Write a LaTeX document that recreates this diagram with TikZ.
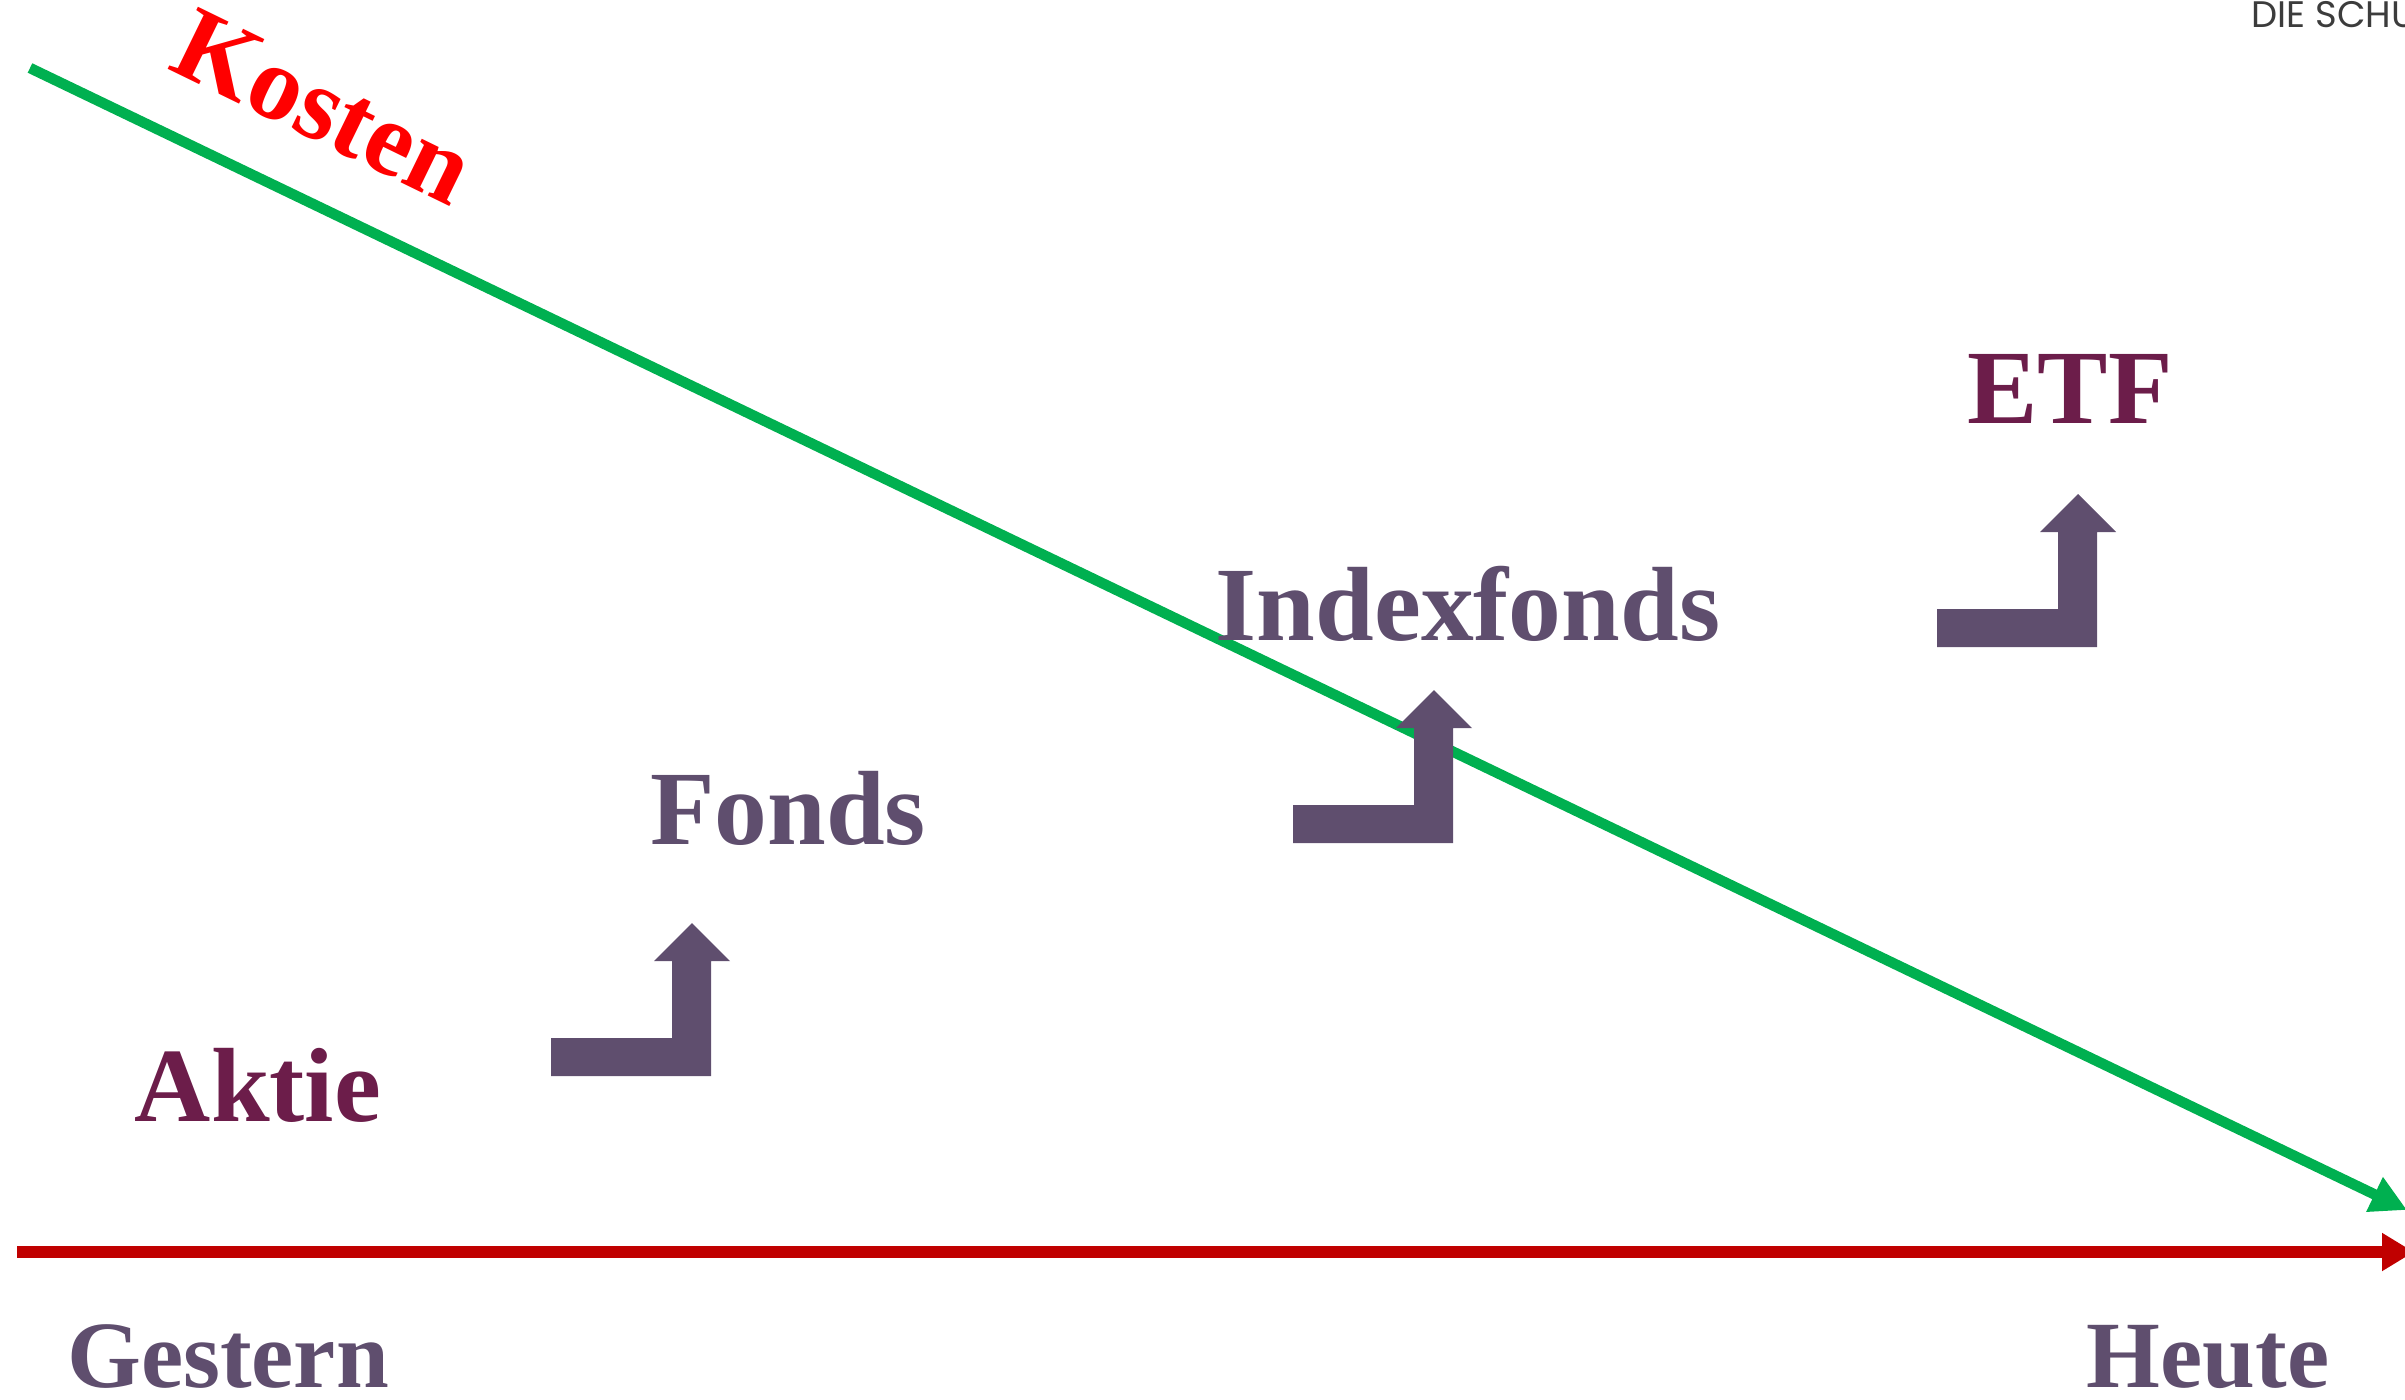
\documentclass[tikz,border=0pt]{standalone}
\usepackage{fontspec}
\setmainfont{Liberation Serif}
\newfontfamily\headfont{Poppins}
\usetikzlibrary{arrows.meta}
\definecolor{deepplum}{RGB}{108,29,74}
\definecolor{mauve}{RGB}{95,78,110}
\definecolor{kostred}{RGB}{255,0,0}
\definecolor{kostgreen}{RGB}{0,176,80}
\definecolor{axisred}{RGB}{192,0,0}
\definecolor{headgray}{RGB}{60,60,60}
\tikzset{
  lbl/.style={font=\fontsize{30}{36}\selectfont\bfseries, inner sep=0pt, anchor=base},
  smalllbl/.style={font=\fontsize{27}{32}\selectfont\bfseries, inner sep=0pt, anchor=base},
  bentarrow/.pic={\fill[mauve] (0,0) -- (160,0) -- (160,-115) -- (179,-115) -- (141,-153) -- (103,-115) -- (121,-115) -- (121,-38) -- (0,-38) -- cycle;},
  costline/.style={draw=kostgreen, line width=0.105cm, -{Triangle[length=0.36cm,width=0.36cm]}},
  timeline/.style={draw=axisred, line width=0.12cm, -{Triangle[length=0.32cm,width=0.36cm]}}
}
\begin{document}
\begin{tikzpicture}[x=0.01cm,y=-0.01cm]
\useasboundingbox (0,0) rectangle (2405,1399);
\clip (0,0) rectangle (2405,1399);
% header
\node[font=\headfont\fontsize{10.5}{12}\selectfont, text=headgray, anchor=base west, inner sep=0pt] (hdr) at (2251,27) {DIE SCHU};
% timeline
\coordinate (tstart) at (17,1252);
\coordinate (tend) at (2414,1252);
\draw[timeline] (tstart) -- (tend);
% cost line
\coordinate (kstart) at (30,68);
\coordinate (kend) at (2407,1210);
\draw[costline] (kstart) -- (kend);
\node[lbl, text=kostred, anchor=center, rotate=-26] (kosten) at (324,107) {Kosten};
% labels
\node[lbl, text=deepplum] (aktie) at (258,1121) {Aktie};
\node[lbl, text=mauve] (fonds) at (788,844) {Fonds};
\node[lbl, text=mauve] (index) at (1468,640) {Indexfonds};
\node[lbl, text=deepplum] (etf) at (2070,423) {ETF};
\node[smalllbl, text=mauve] (gestern) at (228,1387) {Gestern};
\node[smalllbl, text=mauve] (heute) at (2208,1387) {Heute};
% bent arrows
\pic at (551,1076) {bentarrow};
\pic at (1293,843) {bentarrow};
\pic at (1937,647) {bentarrow};
\end{tikzpicture}
\end{document}
